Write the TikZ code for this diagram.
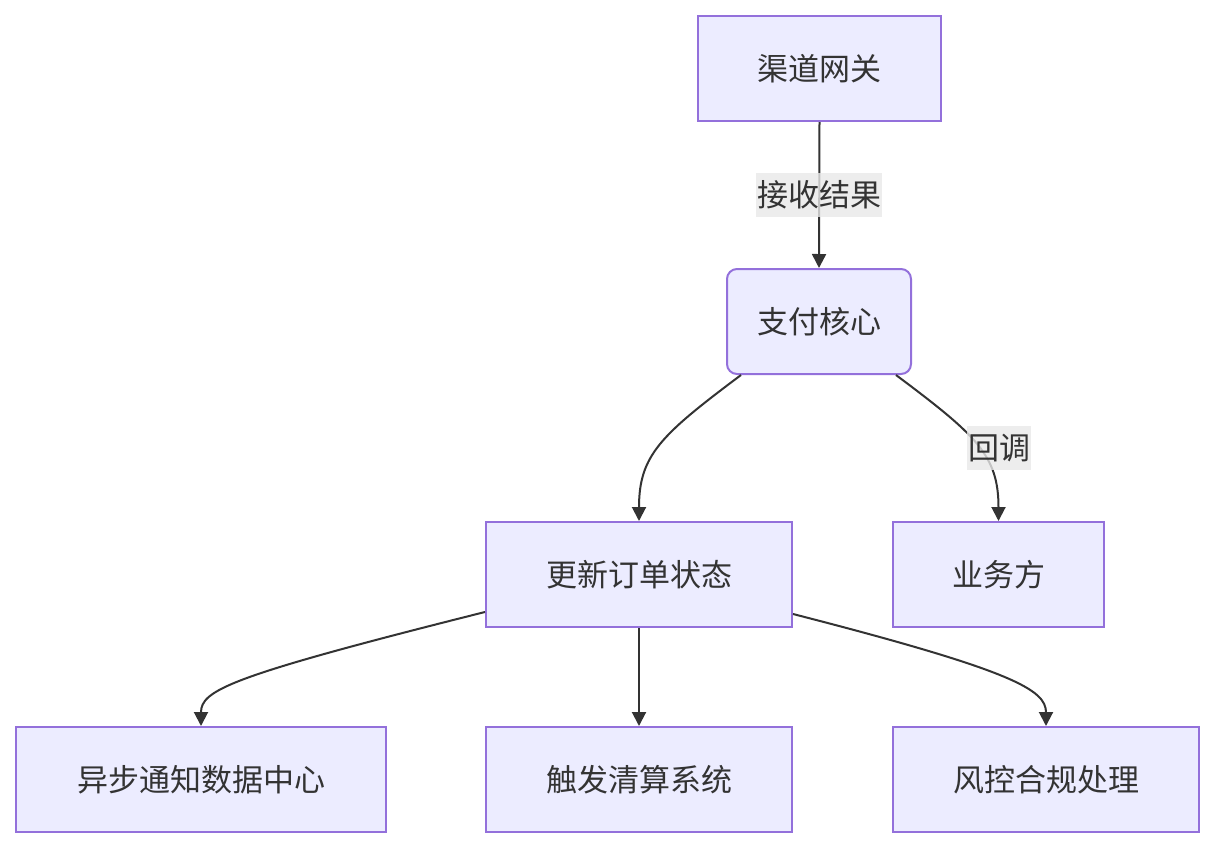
\documentclass[tikz,border=0pt]{standalone}
\usepackage{fontspec}
\newfontfamily\cjk{Noto Sans CJK SC}
\usetikzlibrary{arrows.meta}
\usetikzlibrary{calc}
\definecolor{nodefill}{HTML}{ECECFF}
\definecolor{nodeline}{HTML}{9370DB}
\definecolor{edgeline}{HTML}{333333}
\definecolor{labelfill}{HTML}{E8E8E8}
\newcommand{\defaultboxheight}{105pt}
\newcommand{\flowfont}{\cjk\fontsize{31}{31}\selectfont}
\tikzstyle{box}=[draw=nodeline, fill=nodefill, line width=2pt, text=edgeline, inner sep=0,
                 minimum height=\defaultboxheight, font=\flowfont]
\tikzstyle{rbox}=[box, rounded corners=10pt]
\tikzstyle{flow}=[draw=edgeline, line width=2pt, -{Triangle[length=14pt, width=14pt]}]
\tikzstyle{edgelabel}=[fill=labelfill, fill opacity=0.8, text opacity=1, text=edgeline,
                       inner xsep=1pt, inner ysep=8pt, font=\flowfont]
\tikzstyle{flowchart}=[x=1pt, y=-1pt,
                       % Fix the page to the reference size.
                       execute at begin picture={\useasboundingbox (0,0) rectangle (1232,860);}]
\begin{document}
\begin{tikzpicture}[flowchart]
        \node[box, minimum width=243pt] (gateway) at (819.5, 68.5) {渠道网关};
        \node[rbox, minimum width=184pt] (core) at (819, 321.5) {支付核心};
        \node[box, minimum width=306pt] (order) at (639, 574.5) {更新订单状态};
        \node[box, minimum width=211pt] (biz) at (998.5, 574.5) {业务方};
        \node[box, minimum width=370pt] (notify) at (201, 779.5) {异步通知数据中心};
        \node[box, minimum width=306pt] (settle) at (639, 779.5) {触发清算系统};
        \node[box, minimum width=306pt] (risk) at (1046, 779.5) {风控合规处理};
        \draw[flow] (gateway.south) -- node[edgelabel] {接收结果} (core.north);
        \draw[flow] ($(core.south west)+(15,0)$) .. controls +(-80,60) and +(0,-66) .. (order.north);
        \draw[flow] ($(core.south east)+(-16,0)$) .. controls +(80,60) and +(0,-66) .. (biz.north);
        \node[edgelabel] (callback) at (999, 448) {回调};
        \draw[flow] ($(order.south west)+(0,-16)$) .. controls +(-255,64) and +(0,-36) .. (notify.north);
        \draw[flow] (order.south) -- (settle.north);
        \draw[flow] ($(order.south east)+(0,-14)$) .. controls +(222,57) and +(0,-36) .. (risk.north);
    \end{tikzpicture}
\end{document}
